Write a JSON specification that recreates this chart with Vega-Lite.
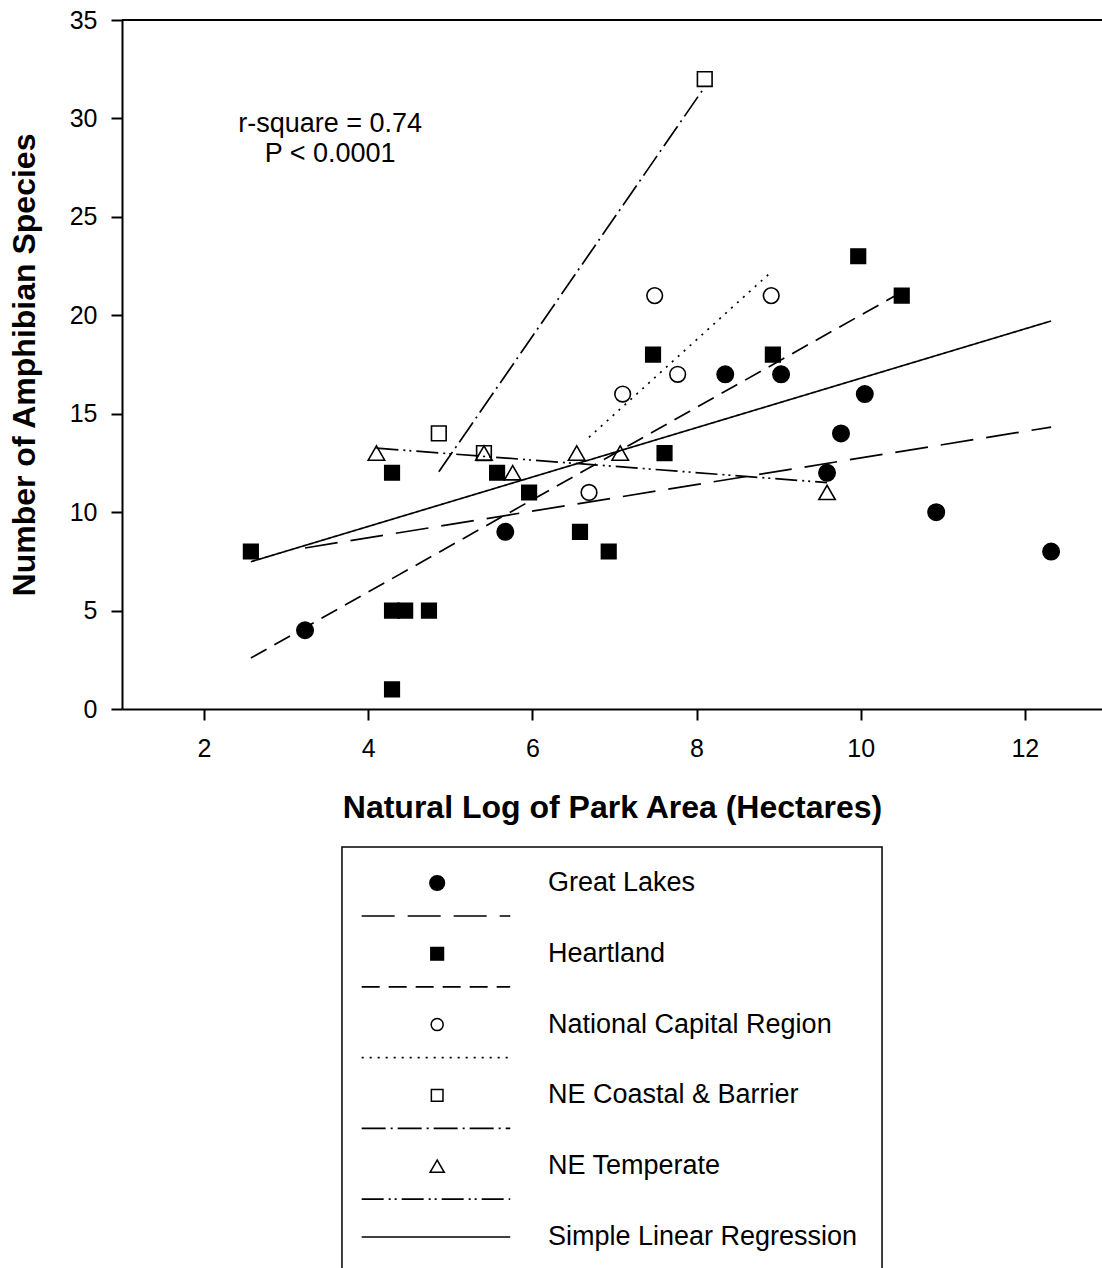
{
  "$schema": "https://vega.github.io/schema/vega-lite/v6.json",
  "autosize": {"type": "none"},
  "padding": {"left": 122, "top": 20, "right": 0, "bottom": 559},
  "width": 980,
  "height": 689,
  "background": "white",
  "config": {
    "font": "Liberation Sans",
    "view": {"stroke": null},
    "legend": {"disable": true},
    "axis": {
      "domainColor": "black", "domainWidth": 2,
      "tickColor": "black", "tickWidth": 2, "tickSize": 11,
      "labelFont": "Liberation Sans", "labelFontSize": 25, "labelColor": "black",
      "titleFont": "Liberation Sans", "titleFontSize": 32, "titleFontWeight": "bold", "titleColor": "black",
      "grid": false
    }
  },
  "datasets": {
    "points": [
      {"region": "Great Lakes", "lnArea": 3.23, "species": 4},
      {"region": "Great Lakes", "lnArea": 5.67, "species": 9},
      {"region": "Great Lakes", "lnArea": 8.35, "species": 17},
      {"region": "Great Lakes", "lnArea": 9.03, "species": 17},
      {"region": "Great Lakes", "lnArea": 9.59, "species": 12},
      {"region": "Great Lakes", "lnArea": 9.76, "species": 14},
      {"region": "Great Lakes", "lnArea": 10.05, "species": 16},
      {"region": "Great Lakes", "lnArea": 10.92, "species": 10},
      {"region": "Great Lakes", "lnArea": 12.32, "species": 8},
      {"region": "Heartland", "lnArea": 2.57, "species": 8},
      {"region": "Heartland", "lnArea": 4.29, "species": 12},
      {"region": "Heartland", "lnArea": 4.29, "species": 5},
      {"region": "Heartland", "lnArea": 4.45, "species": 5},
      {"region": "Heartland", "lnArea": 4.74, "species": 5},
      {"region": "Heartland", "lnArea": 4.29, "species": 1},
      {"region": "Heartland", "lnArea": 5.57, "species": 12},
      {"region": "Heartland", "lnArea": 5.96, "species": 11},
      {"region": "Heartland", "lnArea": 6.58, "species": 9},
      {"region": "Heartland", "lnArea": 6.93, "species": 8},
      {"region": "Heartland", "lnArea": 7.47, "species": 18},
      {"region": "Heartland", "lnArea": 7.61, "species": 13},
      {"region": "Heartland", "lnArea": 8.93, "species": 18},
      {"region": "Heartland", "lnArea": 9.97, "species": 23},
      {"region": "Heartland", "lnArea": 10.5, "species": 21},
      {"region": "National Capital Region", "lnArea": 6.69, "species": 11},
      {"region": "National Capital Region", "lnArea": 7.1, "species": 16},
      {"region": "National Capital Region", "lnArea": 7.49, "species": 21},
      {"region": "National Capital Region", "lnArea": 7.77, "species": 17},
      {"region": "National Capital Region", "lnArea": 8.91, "species": 21},
      {"region": "NE Coastal & Barrier", "lnArea": 4.86, "species": 14},
      {"region": "NE Coastal & Barrier", "lnArea": 5.41, "species": 13},
      {"region": "NE Coastal & Barrier", "lnArea": 8.1, "species": 32},
      {"region": "NE Temperate", "lnArea": 4.1, "species": 13},
      {"region": "NE Temperate", "lnArea": 5.41, "species": 13},
      {"region": "NE Temperate", "lnArea": 5.76, "species": 12},
      {"region": "NE Temperate", "lnArea": 6.54, "species": 13},
      {"region": "NE Temperate", "lnArea": 7.07, "species": 13},
      {"region": "NE Temperate", "lnArea": 9.59, "species": 11}
    ],
    "fits": [
      {"region": "Great Lakes", "lnArea": 3.23, "species": 8.18},
      {"region": "Great Lakes", "lnArea": 12.32, "species": 14.32},
      {"region": "Heartland", "lnArea": 2.57, "species": 2.59},
      {"region": "Heartland", "lnArea": 10.5, "species": 21.18},
      {"region": "National Capital Region", "lnArea": 6.69, "species": 13.8},
      {"region": "National Capital Region", "lnArea": 8.91, "species": 22.2},
      {"region": "NE Coastal & Barrier", "lnArea": 4.86, "species": 12.05},
      {"region": "NE Coastal & Barrier", "lnArea": 8.1, "species": 31.6},
      {"region": "NE Temperate", "lnArea": 4.1, "species": 13.25},
      {"region": "NE Temperate", "lnArea": 9.59, "species": 11.5},
      {"region": "Simple Linear Regression", "lnArea": 2.57, "species": 7.48},
      {"region": "Simple Linear Regression", "lnArea": 12.32, "species": 19.71}
    ],
    "legend": [
      {"region": "Great Lakes", "slot": 0},
      {"region": "Heartland", "slot": 1},
      {"region": "National Capital Region", "slot": 2},
      {"region": "NE Coastal & Barrier", "slot": 3},
      {"region": "NE Temperate", "slot": 4},
      {"region": "Simple Linear Regression", "slot": 5}
    ]
  },
  "layer": [
    {
      "layer": [
        {
          "data": {"values": [{}]},
          "mark": {"type": "rule", "color": "black", "strokeWidth": 2},
          "encoding": {"y": {"datum": 35, "type": "quantitative"}}
        },
        {
          "data": {"name": "fits"},
          "mark": {"type": "line", "color": "black", "strokeWidth": 1.7, "strokeCap": "butt"},
          "encoding": {
            "x": {
              "field": "lnArea", "type": "quantitative",
              "scale": {"domain": [1, 12.94], "nice": false, "zero": false},
              "axis": {"values": [2, 4, 6, 8, 10, 12], "format": "d", "title": "Natural Log of Park Area (Hectares)", "labelPadding": 16, "titlePadding": 31}
            },
            "y": {
              "field": "species", "type": "quantitative",
              "scale": {"domain": [0, 35], "nice": false, "zero": true},
              "axis": {"values": [0, 5, 10, 15, 20, 25, 30, 35], "format": "d", "title": "Number of Amphibian Species", "labelPadding": 14, "titlePadding": 28}
            },
            "strokeDash": {
              "field": "region", "type": "nominal",
              "scale": {
                "domain": ["Great Lakes", "Heartland", "National Capital Region", "NE Coastal & Barrier", "NE Temperate", "Simple Linear Regression"],
                "range": [[33, 13], [18, 9], [2, 6], [24, 5, 2, 5], [22, 5, 2, 4, 2, 5], [1, 0]]
              }
            }
          }
        },
        {
          "data": {"name": "points"},
          "transform": [{"filter": "datum.region === 'Great Lakes'"}],
          "mark": {"type": "point", "shape": "circle", "filled": true, "fill": "black", "stroke": "black", "strokeWidth": 1.5, "opacity": 1, "size": 272},
          "encoding": {"x": {"field": "lnArea", "type": "quantitative"}, "y": {"field": "species", "type": "quantitative"}}
        },
        {
          "data": {"name": "points"},
          "transform": [{"filter": "datum.region === 'Heartland'"}],
          "mark": {"type": "point", "shape": "square", "filled": true, "fill": "black", "stroke": "black", "strokeWidth": 1.5, "opacity": 1, "size": 215},
          "encoding": {"x": {"field": "lnArea", "type": "quantitative"}, "y": {"field": "species", "type": "quantitative"}}
        },
        {
          "data": {"name": "points"},
          "transform": [{"filter": "datum.region === 'National Capital Region'"}],
          "mark": {"type": "point", "shape": "circle", "filled": false, "stroke": "black", "strokeWidth": 1.6, "opacity": 1, "size": 245},
          "encoding": {"x": {"field": "lnArea", "type": "quantitative"}, "y": {"field": "species", "type": "quantitative"}}
        },
        {
          "data": {"name": "points"},
          "transform": [{"filter": "datum.region === 'NE Coastal & Barrier'"}],
          "mark": {"type": "point", "shape": "square", "filled": false, "stroke": "black", "strokeWidth": 1.6, "opacity": 1, "size": 215},
          "encoding": {"x": {"field": "lnArea", "type": "quantitative"}, "y": {"field": "species", "type": "quantitative"}}
        },
        {
          "data": {"name": "points"},
          "transform": [{"filter": "datum.region === 'NE Temperate'"}],
          "mark": {"type": "point", "shape": "triangle-up", "filled": false, "stroke": "black", "strokeWidth": 1.6, "opacity": 1, "size": 270},
          "encoding": {"x": {"field": "lnArea", "type": "quantitative"}, "y": {"field": "species", "type": "quantitative"}}
        },
        {
          "data": {"values": [{}]},
          "mark": {"type": "text", "align": "center", "baseline": "middle", "fontSize": 27, "lineHeight": 30, "color": "black"},
          "encoding": {
            "x": {"datum": 3.535, "type": "quantitative"},
            "y": {"datum": 29.7, "type": "quantitative"},
            "text": {"value": ["r-square = 0.74", "P < 0.0001"]}
          }
        }
      ]
    },
    {
      "layer": [
        {
          "data": {"values": [{}]},
          "mark": {"type": "rect", "fill": "white", "stroke": "black", "strokeWidth": 1.5},
          "encoding": {
            "x": {"datum": 3.68, "type": "quantitative"},
            "x2": {"datum": 10.26},
            "y": {"datum": -0.508, "type": "quantitative", "scale": {"domain": [0, 5], "range": [863, 1217], "nice": false, "zero": false}, "axis": null},
            "y2": {"datum": 6.5}
          }
        },
        {
          "data": {"name": "legend"},
          "transform": [{"filter": "datum.region === 'Great Lakes'"}],
          "mark": {"type": "point", "shape": "circle", "filled": true, "fill": "black", "stroke": "black", "strokeWidth": 1.5, "opacity": 1, "size": 215},
          "encoding": {"x": {"datum": 4.84, "type": "quantitative"}, "y": {"field": "slot", "type": "quantitative", "axis": null}}
        },
        {
          "data": {"name": "legend"},
          "transform": [{"filter": "datum.region === 'Heartland'"}],
          "mark": {"type": "point", "shape": "square", "filled": true, "fill": "black", "stroke": "black", "strokeWidth": 1.5, "opacity": 1, "size": 160},
          "encoding": {"x": {"datum": 4.84, "type": "quantitative"}, "y": {"field": "slot", "type": "quantitative", "axis": null}}
        },
        {
          "data": {"name": "legend"},
          "transform": [{"filter": "datum.region === 'National Capital Region'"}],
          "mark": {"type": "point", "shape": "circle", "filled": false, "stroke": "black", "strokeWidth": 1.5, "opacity": 1, "size": 145},
          "encoding": {"x": {"datum": 4.84, "type": "quantitative"}, "y": {"field": "slot", "type": "quantitative", "axis": null}}
        },
        {
          "data": {"name": "legend"},
          "transform": [{"filter": "datum.region === 'NE Coastal & Barrier'"}],
          "mark": {"type": "point", "shape": "square", "filled": false, "stroke": "black", "strokeWidth": 1.5, "opacity": 1, "size": 135},
          "encoding": {"x": {"datum": 4.84, "type": "quantitative"}, "y": {"field": "slot", "type": "quantitative", "axis": null}}
        },
        {
          "data": {"name": "legend"},
          "transform": [{"filter": "datum.region === 'NE Temperate'"}],
          "mark": {"type": "point", "shape": "triangle-up", "filled": false, "stroke": "black", "strokeWidth": 1.5, "opacity": 1, "size": 200},
          "encoding": {"x": {"datum": 4.84, "type": "quantitative"}, "y": {"field": "slot", "type": "quantitative", "axis": null}}
        },
        {
          "data": {"name": "legend"},
          "transform": [{"filter": "datum.region !== 'Simple Linear Regression'"}],
          "mark": {"type": "rule", "color": "black", "strokeWidth": 1.7, "strokeCap": "butt", "yOffset": 33},
          "encoding": {
            "x": {"datum": 3.92, "type": "quantitative"},
            "x2": {"datum": 5.73},
            "y": {"field": "slot", "type": "quantitative", "axis": null},
            "strokeDash": {"field": "region", "type": "nominal"}
          }
        },
        {
          "data": {"name": "legend"},
          "transform": [{"filter": "datum.region === 'Simple Linear Regression'"}],
          "mark": {"type": "rule", "color": "black", "strokeWidth": 1.7, "strokeCap": "butt"},
          "encoding": {
            "x": {"datum": 3.92, "type": "quantitative"},
            "x2": {"datum": 5.73},
            "y": {"field": "slot", "type": "quantitative", "axis": null},
            "strokeDash": {"field": "region", "type": "nominal"}
          }
        },
        {
          "data": {"name": "legend"},
          "mark": {"type": "text", "align": "left", "baseline": "middle", "fontSize": 27, "color": "black"},
          "encoding": {
            "x": {"datum": 6.19, "type": "quantitative"},
            "y": {"field": "slot", "type": "quantitative", "axis": null},
            "text": {"field": "region", "type": "nominal"}
          }
        }
      ]
    }
  ],
  "resolve": {"scale": {"y": "independent"}}
}
